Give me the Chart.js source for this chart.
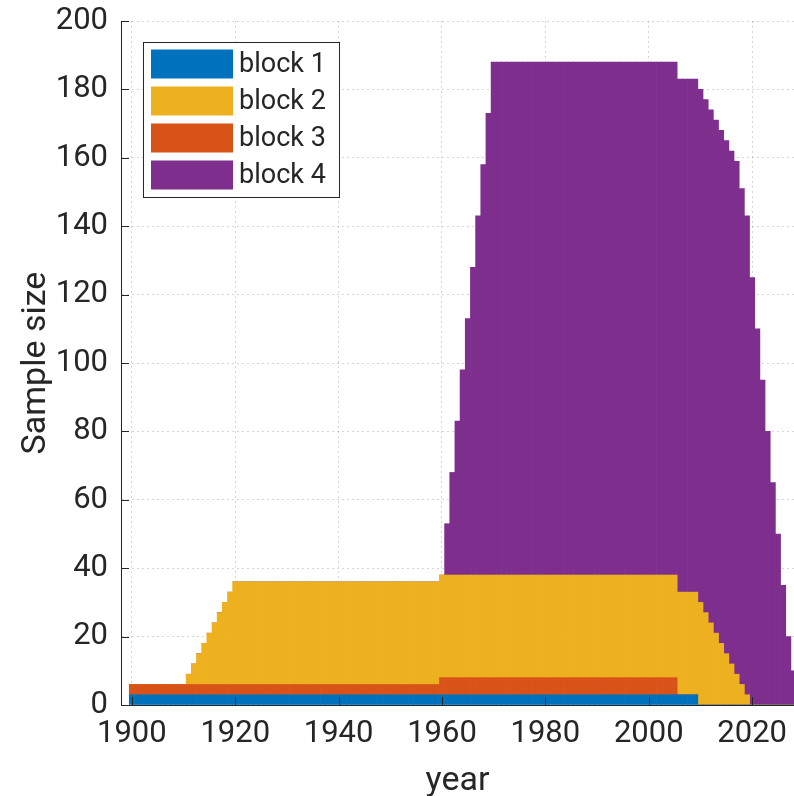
<!DOCTYPE html>
<html>
<head>
<meta charset="utf-8">
<script src="https://cdn.jsdelivr.net/npm/chart.js@4/dist/chart.umd.min.js"></script>
<style>
  html, body { margin: 0; padding: 0; background: #ffffff; }
  #wrap { width: 794px; height: 796px; }
</style>
</head>
<body>
<div id="wrap"><canvas id="sampleChart" width="794" height="796"></canvas></div>
<script>
// Years 1900..2028, one bar per year
const firstYear = 1900;
const lastYear = 2028;

// Sample size per year, 10 values per line
const block1 = [
    3, 3, 3, 3, 3, 3, 3, 3, 3, 3,
    3, 3, 3, 3, 3, 3, 3, 3, 3, 3,
    3, 3, 3, 3, 3, 3, 3, 3, 3, 3,
    3, 3, 3, 3, 3, 3, 3, 3, 3, 3,
    3, 3, 3, 3, 3, 3, 3, 3, 3, 3,
    3, 3, 3, 3, 3, 3, 3, 3, 3, 3,
    3, 3, 3, 3, 3, 3, 3, 3, 3, 3,
    3, 3, 3, 3, 3, 3, 3, 3, 3, 3,
    3, 3, 3, 3, 3, 3, 3, 3, 3, 3,
    3, 3, 3, 3, 3, 3, 3, 3, 3, 3,
    3, 3, 3, 3, 3, 3, 3, 3, 3, 3,
    0, 0, 0, 0, 0, 0, 0, 0, 0, 0,
    0, 0, 0, 0, 0, 0, 0, 0, 0
];

const block2 = [
    0, 0, 0, 0, 0, 0, 0, 0, 0, 0,
    0, 3, 6, 9, 12, 15, 18, 21, 24, 27,
    30, 30, 30, 30, 30, 30, 30, 30, 30, 30,
    30, 30, 30, 30, 30, 30, 30, 30, 30, 30,
    30, 30, 30, 30, 30, 30, 30, 30, 30, 30,
    30, 30, 30, 30, 30, 30, 30, 30, 30, 30,
    30, 30, 30, 30, 30, 30, 30, 30, 30, 30,
    30, 30, 30, 30, 30, 30, 30, 30, 30, 30,
    30, 30, 30, 30, 30, 30, 30, 30, 30, 30,
    30, 30, 30, 30, 30, 30, 30, 30, 30, 30,
    30, 30, 30, 30, 30, 30, 30, 30, 30, 30,
    30, 27, 24, 21, 18, 15, 12, 9, 6, 3,
    0, 0, 0, 0, 0, 0, 0, 0, 0
];

const block3 = [
    3, 3, 3, 3, 3, 3, 3, 3, 3, 3,
    3, 3, 3, 3, 3, 3, 3, 3, 3, 3,
    3, 3, 3, 3, 3, 3, 3, 3, 3, 3,
    3, 3, 3, 3, 3, 3, 3, 3, 3, 3,
    3, 3, 3, 3, 3, 3, 3, 3, 3, 3,
    3, 3, 3, 3, 3, 3, 3, 3, 3, 3,
    5, 5, 5, 5, 5, 5, 5, 5, 5, 5,
    5, 5, 5, 5, 5, 5, 5, 5, 5, 5,
    5, 5, 5, 5, 5, 5, 5, 5, 5, 5,
    5, 5, 5, 5, 5, 5, 5, 5, 5, 5,
    5, 5, 5, 5, 5, 5, 0, 0, 0, 0,
    0, 0, 0, 0, 0, 0, 0, 0, 0, 0,
    0, 0, 0, 0, 0, 0, 0, 0, 0
];

const block4 = [
    0, 0, 0, 0, 0, 0, 0, 0, 0, 0,
    0, 0, 0, 0, 0, 0, 0, 0, 0, 0,
    0, 0, 0, 0, 0, 0, 0, 0, 0, 0,
    0, 0, 0, 0, 0, 0, 0, 0, 0, 0,
    0, 0, 0, 0, 0, 0, 0, 0, 0, 0,
    0, 0, 0, 0, 0, 0, 0, 0, 0, 0,
    0, 15, 30, 45, 60, 75, 90, 105, 120, 135,
    150, 150, 150, 150, 150, 150, 150, 150, 150, 150,
    150, 150, 150, 150, 150, 150, 150, 150, 150, 150,
    150, 150, 150, 150, 150, 150, 150, 150, 150, 150,
    150, 150, 150, 150, 150, 150, 150, 150, 150, 150,
    150, 150, 150, 150, 150, 150, 150, 150, 145, 140,
    125, 110, 95, 80, 65, 50, 35, 20, 10
];

const xTicks = [1900, 1920, 1940, 1960, 1980, 2000, 2020];
const yTicks = [0, 20, 40, 60, 80, 100, 120, 140, 160, 180, 200];

const years = [];
for (let y = firstYear; y <= lastYear; y++) years.push(y);

const textColor = '#262626';
const gridColor = 'rgba(0, 0, 0, 0.16)';
const FONT = 'Roboto, "Noto Sans", sans-serif';

function toPoints(values) {
    return years.map((yr, i) => ({ x: yr, y: values[i] }));
}

// inward tick marks, matlab style
const tickMarks = {
    id: 'tickMarks',
    afterDatasetsDraw(chart) {
        const { ctx, chartArea, scales } = chart;
        ctx.save();
        ctx.strokeStyle = textColor;
        ctx.lineWidth = 1;
        ctx.beginPath();
        xTicks.forEach(v => {
            const px = Math.round(scales.x.getPixelForValue(v)) + 0.5;
            ctx.moveTo(px, chartArea.bottom);
            ctx.lineTo(px, chartArea.bottom - 8);
        });
        yTicks.forEach(v => {
            const py = Math.round(scales.y.getPixelForValue(v)) + 0.5;
            ctx.moveTo(chartArea.left, py);
            ctx.lineTo(chartArea.left + 8, py);
        });
        ctx.stroke();
        ctx.restore();
    }
};

// legend box in the upper left corner
const boxLegend = {
    id: 'boxLegend',
    afterDraw(chart) {
        const { ctx } = chart;
        const items = chart.data.datasets
            .map(ds => ({ text: ds.label, color: ds.backgroundColor }))
            .sort((a, b) => a.text.localeCompare(b.text));
        const left = 143, top = 42, width = 196, height = 155;
        ctx.save();
        ctx.fillStyle = '#ffffff';
        ctx.fillRect(left, top, width, height);
        ctx.strokeStyle = textColor;
        ctx.lineWidth = 1;
        ctx.strokeRect(left + 0.5, top + 0.5, width, height);
        ctx.font = '27px ' + FONT;
        ctx.textBaseline = 'middle';
        items.forEach((item, i) => {
            const cy = 64 + i * 37;
            ctx.fillStyle = item.color;
            ctx.fillRect(151, cy - 14.5, 82, 29);
            ctx.fillStyle = textColor;
            ctx.fillText(item.text, 239, cy + 1);
        });
        ctx.restore();
    }
};

const ctx = document.getElementById('sampleChart');

new Chart(ctx, {
    type: 'bar',
    data: {
        datasets: [
            { label: 'block 1', data: toPoints(block1), backgroundColor: '#0072BD' },
            { label: 'block 3', data: toPoints(block3), backgroundColor: '#D95319' },
            { label: 'block 2', data: toPoints(block2), backgroundColor: '#EDB120' },
            { label: 'block 4', data: toPoints(block4), backgroundColor: '#7E2F8E' }
        ]
    },
    options: {
        responsive: false,
        animation: false,
        barPercentage: 1,
        categoryPercentage: 1,
        borderWidth: 0,
        layout: { padding: { top: 21, right: 0, bottom: 0, left: 0 } },
        plugins: {
            legend: { display: false },
            tooltip: { enabled: false }
        },
        scales: {
            x: {
                type: 'linear',
                stacked: true,
                offset: false,
                min: 1897.9,
                max: 2028.1,
                afterBuildTicks: scale => { scale.ticks = xTicks.map(v => ({ value: v })); },
                afterFit: scale => { scale.height = 91; },
                grid: {
                    color: gridColor,
                    offset: false,
                    drawTicks: false
                },
                border: { display: true, color: textColor, width: 1, dash: [2, 3] },
                ticks: {
                    color: textColor,
                    font: { family: FONT, size: 31, lineHeight: 1.9 },
                    padding: 0,
                    maxRotation: 0,
                    autoSkip: false,
                    callback: v => String(v)
                },
                title: {
                    display: true,
                    text: 'year',
                    color: textColor,
                    font: { family: FONT, size: 34, lineHeight: 1 },
                    padding: { top: 0, bottom: -2 }
                }
            },
            y: {
                stacked: true,
                min: 0,
                max: 200,
                afterBuildTicks: scale => { scale.ticks = yTicks.map(v => ({ value: v })); },
                afterFit: scale => { scale.width = 121; },
                grid: {
                    color: gridColor,
                    drawTicks: false
                },
                border: { display: true, color: textColor, width: 1, dash: [2, 3] },
                ticks: {
                    color: textColor,
                    font: { family: FONT, size: 31, lineHeight: 0.5 },
                    padding: 13,
                    callback: v => String(v)
                },
                title: {
                    display: true,
                    text: 'Sample size',
                    color: textColor,
                    font: { family: FONT, size: 34, lineHeight: 1 },
                    padding: { top: 19, bottom: 0 }
                }
            }
        }
    },
    plugins: [tickMarks, boxLegend]
});
</script>
</body>
</html>
